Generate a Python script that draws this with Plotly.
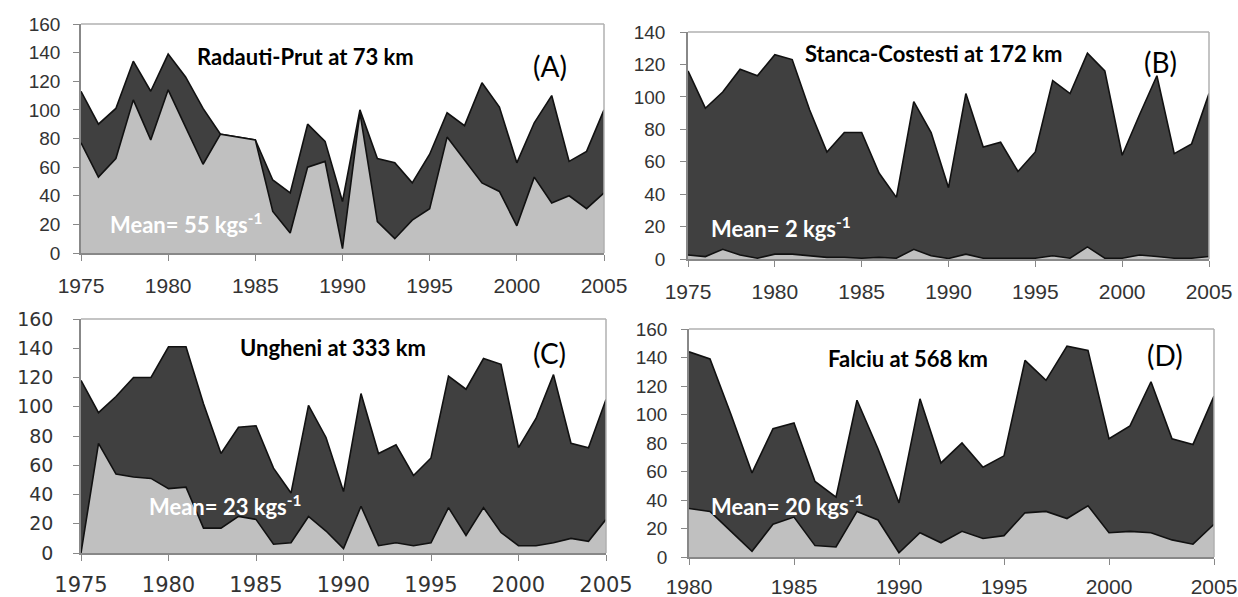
import plotly.graph_objects as go

years_75 = list(range(1975, 2006))
years_80 = list(range(1980, 2006))

# Panel A: Radauti-Prut
a_total = [113, 90, 101, 134, 113, 139, 123, 101, 83, 81, 79, 51, 42, 90, 78, 36, 100, 66, 63, 49, 69, 98, 89, 119, 102, 63, 91, 110, 64, 71, 100]
a_part = [77, 53, 66, 107, 79, 114, 88, 62, 83, 81, 79, 29, 14, 60, 64, 3, 98, 22, 10, 23, 31, 81, 65, 49, 43, 19, 53, 35, 40, 31, 42]

# Panel B: Stanca-Costesti
b_total = [116, 93, 103, 117, 113, 126, 123, 92, 66, 78, 78, 53, 38, 97, 78, 44, 102, 69, 72, 54, 66, 110, 102, 127, 116, 64, 89, 113, 65, 71, 102]
b_part = [2.5, 1.5, 6, 2.5, 0.5, 3, 3, 2, 1, 1, 0.5, 1, 0.5, 6, 2, 0.3, 3, 0.5, 0.5, 0.5, 0.5, 2, 0.5, 7.5, 0.5, 0.5, 2.5, 1.5, 0.5, 0.5, 1.5]

# Panel C: Ungheni
c_total = [118, 96, 107, 120, 120, 141, 141, 102, 68, 86, 87, 58, 41, 101, 79, 42, 109, 68, 74, 53, 65, 121, 112, 133, 129, 72, 92, 122, 75, 72, 105]
c_part = [0, 75, 54, 52, 51, 44, 45, 17, 17, 25, 23, 6, 7, 25, 15, 3, 32, 5, 7, 5, 7, 31, 12, 31, 14, 5, 5, 7, 10, 8, 23]

# Panel D: Falciu
d_total = [144, 139, 100, 59, 90, 94, 53, 42, 110, 76, 38, 111, 66, 80, 63, 71, 138, 124, 148, 145, 83, 92, 123, 83, 79, 113]
d_part = [34, 32, 18, 4, 23, 28, 8, 7, 32, 26, 3, 17, 10, 18, 13, 15, 31, 32, 27, 36, 17, 18, 17, 12, 9, 23]

panels = [
    dict(x=years_75, top=a_total, low=a_part, xr=[1975, 2005], yr=[0, 160], title="Radauti-Prut at 73 km", tag="(A)", mean="55",
         dom_x=[81, 604], dom_y=[24, 253], tpos=(305, 57), tagpos=(550, 66), mpos=(186, 224), font="Liberation Sans",
         xfs=21, yfs=19, xso=7, yso=9),
    dict(x=years_75, top=b_total, low=b_part, xr=[1975, 2005], yr=[0, 140], title="Stanca-Costesti at 172 km", tag="(B)", mean="2",
         dom_x=[688, 1209], dom_y=[32, 259], tpos=(934, 53), tagpos=(1160, 62), mpos=(781, 227), font="Liberation Sans",
         xfs=21, yfs=19, xso=7, yso=11),
    dict(x=years_75, top=c_total, low=c_part, xr=[1975, 2005], yr=[0, 160], title="Ungheni at 333 km", tag="(C)", mean="23",
         dom_x=[81, 606], dom_y=[319, 553], tpos=(333, 347), tagpos=(549, 353), mpos=(225, 505), font="DejaVu Sans",
         xfs=21, yfs=19, xso=6, yso=16),
    dict(x=years_80, top=d_total, low=d_part, xr=[1980, 2005], yr=[0, 160], title="Falciu at 568 km", tag="(D)", mean="20",
         dom_x=[689, 1214], dom_y=[329, 557], tpos=(908, 358), tagpos=(1165, 355), mpos=(787, 505), font="Liberation Sans",
         xfs=21, yfs=19, xso=4, yso=10),
]

W, H = 1238, 597
fig = go.Figure()
layout = dict(width=W, height=H, margin=dict(l=0, r=0, t=0, b=0), paper_bgcolor="white", plot_bgcolor="white",
              showlegend=False, annotations=[], shapes=[])

for i, p in enumerate(panels, start=1):
    xa = "x" if i == 1 else f"x{i}"
    ya = "y" if i == 1 else f"y{i}"
    fig.add_trace(go.Scatter(x=p["x"], y=p["top"], mode="lines", fill="tozeroy", fillcolor="#404040",
                             line=dict(color="#111111", width=1.6), xaxis=xa, yaxis=ya))
    fig.add_trace(go.Scatter(x=p["x"], y=p["low"], mode="lines", fill="tozeroy", fillcolor="#c0c0c0",
                             line=dict(color="#111111", width=1.6), xaxis=xa, yaxis=ya))
    xd = [p["dom_x"][0] / W, p["dom_x"][1] / W]
    yd = [1 - p["dom_y"][1] / H, 1 - p["dom_y"][0] / H]
    xkey = "xaxis" if i == 1 else f"xaxis{i}"
    ykey = "yaxis" if i == 1 else f"yaxis{i}"
    layout[xkey] = dict(domain=xd, range=p["xr"], dtick=5, tick0=1975, ticks="outside", ticklen=6, tickcolor="#888",
                        showgrid=False, zeroline=False, showline=True, linecolor="#888", linewidth=1.5,
                        ticklabelstandoff=p["xso"], automargin=False,
                        tickfont=dict(family=p["font"], size=p["xfs"], color="#333"), anchor=ya, fixedrange=True)
    layout[ykey] = dict(domain=yd, range=p["yr"], dtick=20, ticks="outside", ticklen=6, tickcolor="#888",
                        showgrid=False, zeroline=False, showline=True, linecolor="#888", linewidth=1.5,
                        ticklabelstandoff=p["yso"], automargin=False,
                        tickfont=dict(family=p["font"], size=p["yfs"], color="#333"), anchor=xa, fixedrange=True)
    # light frame on top and right
    layout["shapes"].append(dict(type="line", xref="paper", yref="paper", x0=xd[0], x1=xd[1], y0=yd[1], y1=yd[1],
                                 line=dict(color="#b0b0b0", width=1.5)))
    layout["shapes"].append(dict(type="line", xref="paper", yref="paper", x0=xd[1], x1=xd[1], y0=yd[0], y1=yd[1],
                                 line=dict(color="#b0b0b0", width=1.5)))
    layout["annotations"].append(dict(xref="paper", yref="paper", x=p["tpos"][0] / W, y=1 - p["tpos"][1] / H,
                                      text=f"<b>{p['title']}</b>", showarrow=False, xanchor="center", yanchor="middle",
                                      font=dict(family="Lato", size=22, color="black")))
    layout["annotations"].append(dict(xref="paper", yref="paper", x=p["tagpos"][0] / W, y=1 - p["tagpos"][1] / H,
                                      text=p["tag"], showarrow=False, xanchor="center", yanchor="middle",
                                      font=dict(family="Lato", size=28, color="black")))
    layout["annotations"].append(dict(xref="paper", yref="paper", x=p["mpos"][0] / W, y=1 - p["mpos"][1] / H,
                                      text=f"<b>Mean= {p['mean']} kgs<sup>-1</sup></b>", showarrow=False,
                                      xanchor="center", yanchor="middle",
                                      font=dict(family="Lato", size=22, color="white")))

fig.update_layout(**layout)
fig.write_html("out.html")
